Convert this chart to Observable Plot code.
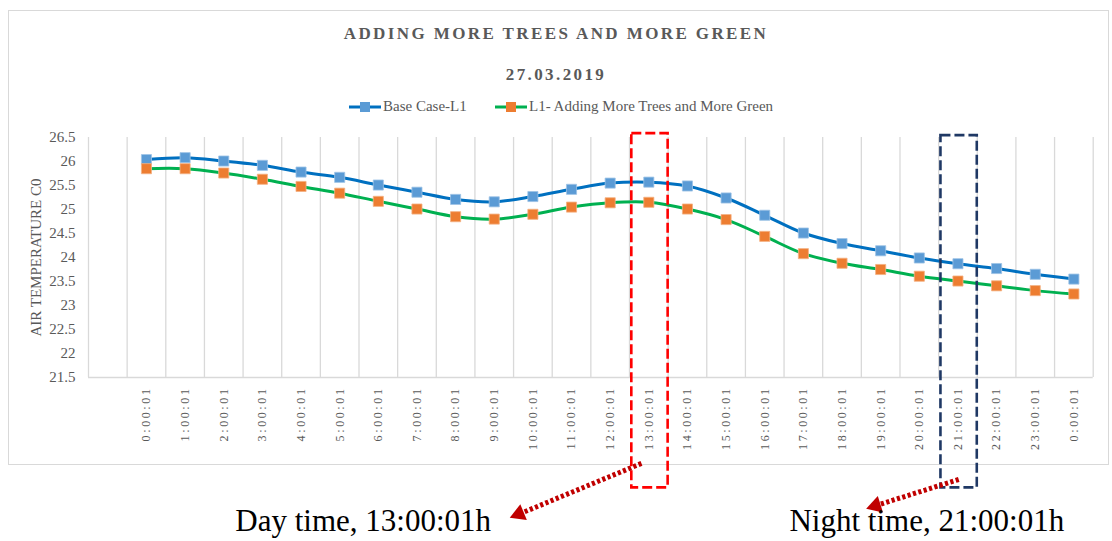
<!DOCTYPE html>
<html>
<head>
<meta charset="utf-8">
<script src="https://cdn.jsdelivr.net/npm/d3@7"></script>
<script src="https://cdn.jsdelivr.net/npm/@observablehq/plot@0.6"></script>
<style>
  body { margin: 0; background: #fff; }
  #page { position: relative; width: 1112px; height: 541px; overflow: hidden; font-family: "Liberation Serif", "Times New Roman", serif; }
  #frame { position: absolute; left: 8px; top: 10px; width: 1101px; height: 455px; border: 1px solid #d9d9d9; box-sizing: border-box; }
  .ttl { position: absolute; left: 0; width: 1112px; text-align: center; font-weight: bold; color: #595959; font-size: 17px; letter-spacing: 2.4px; }
  #title { top: 24px; }
  #subtitle { top: 65px; }
  .leg { position: absolute; top: 98px; display: flex; align-items: center; font-size: 15px; color: #595959; }
  .leg svg { margin-right: 2px; }
  #chart { position: absolute; left: 0; top: 120px; }
  #chart svg { background: none; overflow: visible; }
  #chart g[aria-label="x-axis tick label"] text { letter-spacing: 2.6px; }
</style>
</head>
<body>
<div id="page">
  <div id="frame"></div>
  <div id="title" class="ttl"></div>
  <div id="subtitle" class="ttl"></div>
  <div id="leg1" class="leg" style="left:349px"></div>
  <div id="leg2" class="leg" style="left:495px"></div>
  <div id="chart"></div>
</div>
<script>
// ---- data ----
const titleText = "ADDING MORE TREES AND MORE GREEN";
const subtitleText = "27.03.2019";
const seriesNames = ["Base Case-L1", "L1- Adding More Trees and More Green"];
const yLabel = "AIR TEMPERATURE C0";
// first category is an empty slot, as in the original chart
const categories = ["", "0:00:01", "1:00:01", "2:00:01", "3:00:01", "4:00:01", "5:00:01", "6:00:01",
  "7:00:01", "8:00:01", "9:00:01", "10:00:01", "11:00:01", "12:00:01", "13:00:01", "14:00:01",
  "15:00:01", "16:00:01", "17:00:01", "18:00:01", "19:00:01", "20:00:01", "21:00:01", "22:00:01",
  "23:00:01", "0:00:01"];
const baseCase = [null, 26.04, 26.08, 26.01, 25.92, 25.78, 25.67, 25.51, 25.36, 25.21, 25.16,
  25.27, 25.42, 25.55, 25.57, 25.49, 25.24, 24.88, 24.51, 24.29, 24.14, 23.99, 23.87, 23.77, 23.65, 23.55];
const moreGreen = [null, 25.85, 25.85, 25.76, 25.63, 25.48, 25.34, 25.17, 25.01, 24.85, 24.80,
  24.90, 25.05, 25.14, 25.15, 25.01, 24.79, 24.44, 24.08, 23.88, 23.75, 23.61, 23.51, 23.41, 23.31, 23.24];
const yTicks = [21.5, 22, 22.5, 23, 23.5, 24, 24.5, 25, 25.5, 26, 26.5];
const highlightCats = ["13:00:01", "21:00:01"];
const annotationTexts = ["Day time, 13:00:01h", "Night time, 21:00:01h"];

// ---- header ----
document.getElementById("title").textContent = titleText;
document.getElementById("subtitle").textContent = subtitleText;
function legendSwatch(line, marker) {
  return `<svg width="32" height="12"><line x1="0" y1="6" x2="32" y2="6" stroke="${line}" stroke-width="3"/>` +
    `<rect x="11" y="1" width="10" height="10" fill="${marker}"/></svg>`;
}
document.getElementById("leg1").innerHTML = legendSwatch("#0070C0", "#5B9BD5") + `<span>${seriesNames[0]}</span>`;
document.getElementById("leg2").innerHTML = legendSwatch("#00B050", "#ED7D31") + `<span>${seriesNames[1]}</span>`;

// ---- chart ----
const rows = categories.map((c, i) => ({i, label: c, base: baseCase[i], green: moreGreen[i]}));
const valid = rows.filter(d => d.base != null);
const cx = d => d.i + 0.5;
const tickPos = valid.map(d => d.i + 0.5);
const hl = highlightCats.map((c, k) => ({idx: categories.indexOf(c), k}));

// annotation geometry (category / temperature units)
const arrows = [
  {x1: 14.31, y1: 19.71, x2: 11.26, y2: 18.694, hx: 11.14, hy: 18.656, rot: -112.2, tx: 3.80, ty: 18.50, text: annotationTexts[0]},
  {x1: 22.52, y1: 19.375, x2: 20.48, y2: 18.858, hx: 20.37, hy: 18.83, rot: -107.5, tx: 18.14, ty: 18.50, text: annotationTexts[1]}
];

const chart = Plot.plot({
  width: 1112,
  height: 421,
  marginLeft: 88,
  marginRight: 19.3,
  marginTop: 17,
  marginBottom: 164,
  x: {domain: [0, categories.length]},
  y: {domain: [21.5, 26.5]},
  style: {fontFamily: "Liberation Serif, Times New Roman, serif", fontSize: "15px", color: "#595959", background: "none"},
  marks: [
    Plot.ruleX(d3.range(0, categories.length + 1), {stroke: "#d9d9d9", strokeWidth: 1.3}),
    Plot.ruleY([21.5], {stroke: "#d9d9d9", strokeWidth: 1.3}),
    Plot.axisY({ticks: yTicks, tickSize: 0, tickPadding: 13, tickFormat: d => String(d), fontSize: 15,
      label: yLabel, labelAnchor: "center", labelArrow: "none", labelOffset: 58}),
    Plot.axisX({ticks: tickPos, tickSize: 0, tickPadding: 9, tickRotate: -90, fontSize: 12,
      tickFormat: v => categories[Math.floor(v)], label: null}),
    Plot.line(valid, {x: cx, y: "base", stroke: "#0070C0", strokeWidth: 3, curve: "catmull-rom"}),
    Plot.line(valid, {x: cx, y: "green", stroke: "#00B050", strokeWidth: 3, curve: "catmull-rom"}),
    Plot.dot(valid, {x: cx, y: "base", symbol: "square", r: 5.7, fill: "#5B9BD5", stroke: "#9DC3E6", strokeWidth: 0.8}),
    Plot.dot(valid, {x: cx, y: "green", symbol: "square", r: 5.7, fill: "#ED7D31", stroke: "#F4B183", strokeWidth: 0.8}),
    // highlight boxes
    Plot.rect(hl, {x1: d => d.idx + 0.06, x2: d => d.idx + 1.0, y1: 19.2, y2: d => d.k === 0 ? 26.58 : 26.54,
      fill: "none", stroke: d => d.k === 0 ? "#FF0000" : "#1F3864", strokeWidth: 2.6, strokeDasharray: "10,4"}),
    // arrows
    Plot.link(arrows, {x1: "x1", y1: "y1", x2: "x2", y2: "y2", stroke: "#C00000", strokeWidth: 5, strokeDasharray: "3.2,2.4"}),
    Plot.dot(arrows, {x: "hx", y: "hy", symbol: "triangle", r: 6.4, fill: "#C00000", rotate: "rot"}),
    Plot.text(arrows, {x: "tx", y: "ty", text: "text", textAnchor: "start", fontSize: 31, fill: "#000",
      fontFamily: "Liberation Serif, Times New Roman, serif"})
  ]
});
document.getElementById("chart").appendChild(chart);
</script>
</body>
</html>
